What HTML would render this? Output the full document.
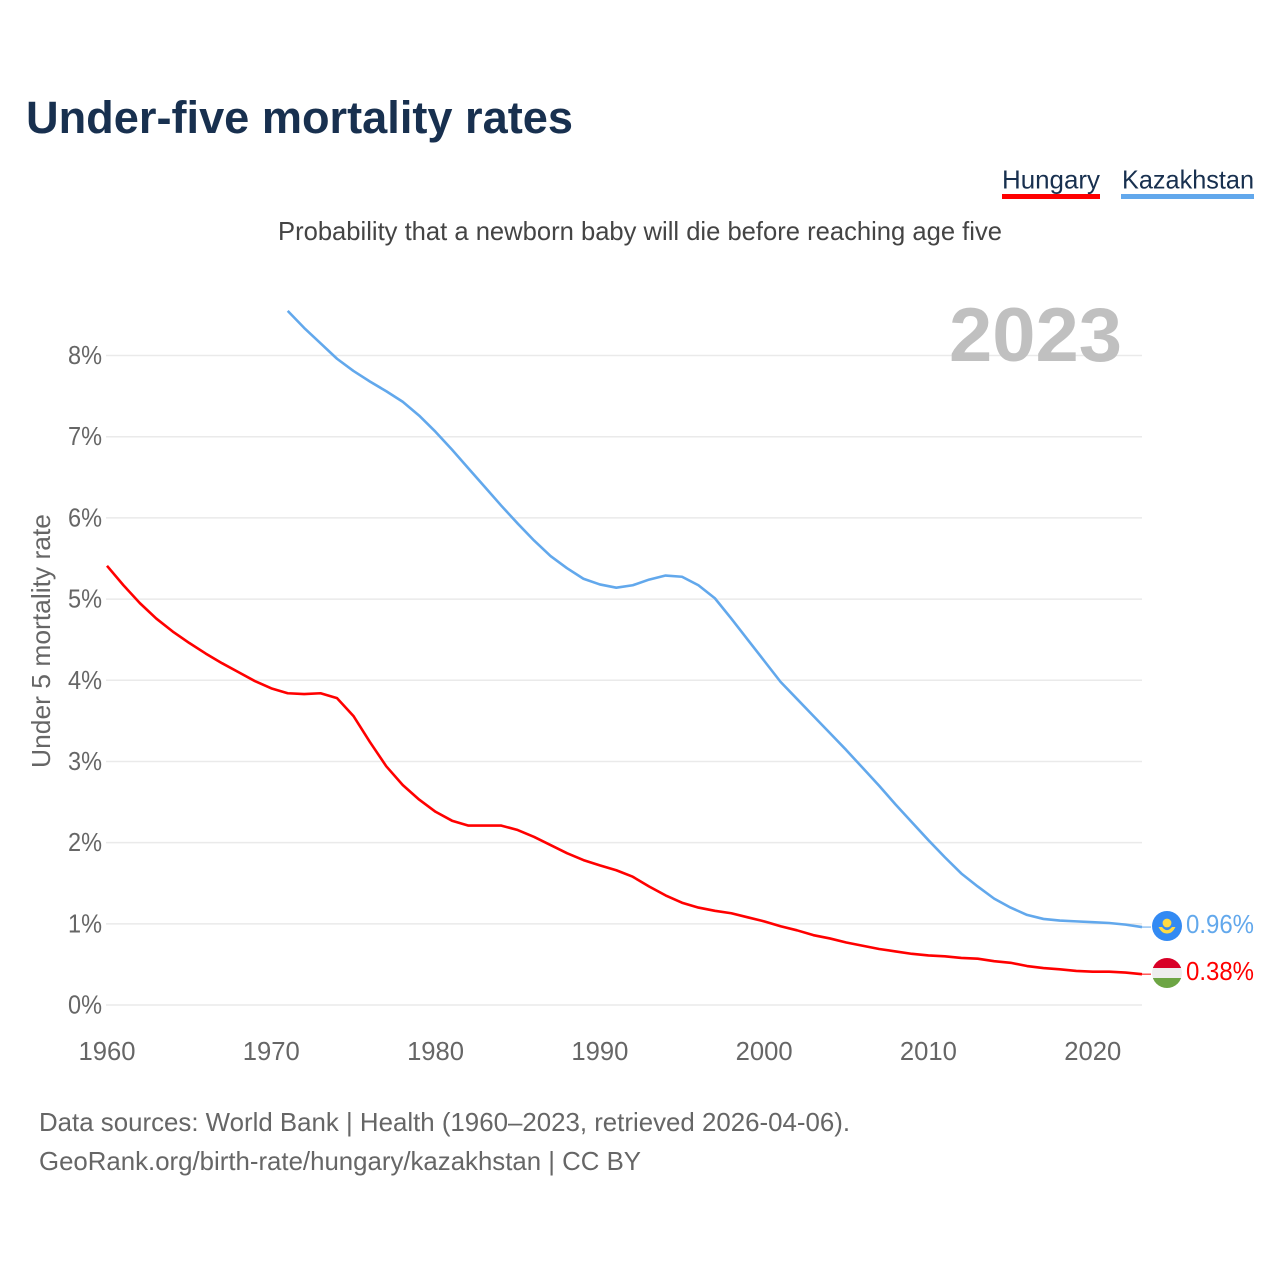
<!DOCTYPE html>
<html lang="en">
<head>
<meta charset="utf-8">
<title>Under-five mortality rates</title>
<style>
html,body{margin:0;padding:0;background:#fff;}
svg{display:block;font-family:"Liberation Sans",sans-serif;}
</style>
</head>
<body>
<svg id="chart" xmlns="http://www.w3.org/2000/svg" width="1280" height="1280" viewBox="0 0 1280 1280">
  <rect x="0" y="0" width="1280" height="1280" fill="#ffffff"/>
  <text x="26" y="133" font-size="45" font-weight="700" fill="#18304f" textLength="547" lengthAdjust="spacingAndGlyphs">Under-five mortality rates</text>
  <g>
    <text x="1002" y="188.5" font-size="26" fill="#18304f" textLength="98" lengthAdjust="spacingAndGlyphs">Hungary</text>
    <rect x="1002" y="194" width="98" height="5" fill="#ff0000"/>
  </g>
  <g>
    <text x="1122" y="188.5" font-size="26" fill="#18304f" textLength="132" lengthAdjust="spacingAndGlyphs">Kazakhstan</text>
    <rect x="1121" y="194" width="133" height="5" fill="#62a8ec"/>
  </g>
  <text x="278" y="240" font-size="26" fill="#444444" textLength="724" lengthAdjust="spacingAndGlyphs">Probability that a newborn baby will die before reaching age five</text>
  <g id="grid"></g>
  <text x="949" y="361" font-size="76" font-weight="700" fill="#c0c0c0" textLength="173" lengthAdjust="spacingAndGlyphs">2023</text>
  <g id="y-axis"></g>
  <g id="x-axis"></g>
  <text transform="translate(50 768) rotate(-90)" x="0" y="0" font-size="26" fill="#666666" textLength="254" lengthAdjust="spacingAndGlyphs">Under 5 mortality rate</text>
  <g id="series"></g>
  <g>
    <circle cx="1167" cy="926" r="15" fill="#338af3"/>
    <circle cx="1167" cy="923" r="4.4" fill="#ffda44"/>
    <path d="M1158.5 927 Q1162 934 1167 933.5 Q1172 934 1175.5 927 L1172 927 Q1169 930.5 1167 930 Q1165 930.5 1162 927 Z" fill="#ffda44"/>
  </g>
  <g>
    <clipPath id="hu-clip"><circle cx="1167" cy="973" r="15"/></clipPath>
    <g clip-path="url(#hu-clip)">
      <rect x="1152" y="958" width="30" height="10" fill="#d80027"/>
      <rect x="1152" y="968" width="30" height="10" fill="#eeeeee"/>
      <rect x="1152" y="978" width="30" height="10" fill="#6da544"/>
    </g>
  </g>
  <g id="end-labels"></g>
  <text x="39" y="1131" font-size="26" fill="#666666" textLength="811" lengthAdjust="spacingAndGlyphs">Data sources: World Bank | Health (1960–2023, retrieved 2026-04-06).</text>
  <text x="39" y="1170" font-size="26" fill="#666666" textLength="602" lengthAdjust="spacingAndGlyphs">GeoRank.org/birth-rate/hungary/kazakhstan | CC BY</text>
</svg>
<script>
const hungaryStartYear = 1960;
const kazakhstanStartYear = 1971;
const hungaryValues = [5.41,5.17,4.95,4.76,4.60,4.46,4.33,4.21,4.10,3.99,3.90,3.84,3.83,3.84,3.78,3.56,3.24,2.94,2.71,2.53,2.38,2.27,2.21,2.21,2.21,2.155,2.07,1.97,1.87,1.785,1.72,1.66,1.58,1.46,1.35,1.26,1.20,1.16,1.13,1.08,1.03,0.97,0.92,0.86,0.82,0.77,0.73,0.69,0.66,0.63,0.61,0.60,0.58,0.57,0.54,0.52,0.48,0.455,0.44,0.42,0.41,0.41,0.40,0.38];
const kazakhstanValues = [8.55,8.34,8.15,7.96,7.81,7.68,7.56,7.43,7.26,7.06,6.84,6.61,6.38,6.15,5.93,5.72,5.53,5.38,5.25,5.18,5.14,5.17,5.24,5.29,5.275,5.17,5.01,4.76,4.50,4.24,3.98,3.77,3.56,3.35,3.14,2.92,2.70,2.47,2.25,2.03,1.82,1.62,1.46,1.31,1.20,1.11,1.06,1.04,1.03,1.02,1.01,0.99,0.96];
const yTicks = [0,1,2,3,4,5,6,7,8];
const xTicks = [1960,1970,1980,1990,2000,2010,2020];
const hungaryEndLabel = "0.38%";
const kazakhstanEndLabel = "0.96%";

const NS = "http://www.w3.org/2000/svg";
function xScale(year){ return 107 + (year - 1960) * (1142 - 107) / 63; }
function yScale(value){ return 1005 - value * (1005 - 355.5) / 8; }
function make(tag, attrs, parent, content){
  const el = document.createElementNS(NS, tag);
  for (const k in attrs) el.setAttribute(k, attrs[k]);
  if (content !== undefined) el.textContent = content;
  parent.appendChild(el);
  return el;
}
const gridGroup = document.getElementById("grid");
const yGroup = document.getElementById("y-axis");
const xGroup = document.getElementById("x-axis");
const seriesGroup = document.getElementById("series");
const labelsGroup = document.getElementById("end-labels");

yTicks.forEach(function(t){
  const line = make("line", {x1:106, x2:1142, y1:yScale(t), y2:yScale(t), stroke:"#eaeaea", "stroke-width":1.5}, gridGroup);
  
  
  const label = make("text", {x:68, y:yScale(t)+8.5, "font-size":26, fill:"#666666", textLength:34, lengthAdjust:"spacingAndGlyphs"}, yGroup, t + "%");
  
  
});
xTicks.forEach(function(t){
  const label = make("text", {x:xScale(t)-28.5, y:1060, "font-size":26, fill:"#666666", textLength:57, lengthAdjust:"spacingAndGlyphs"}, xGroup, String(t));
  
  
});
function linePoints(values, startYear){
  return values.map(function(v, i){ return xScale(startYear + i).toFixed(2) + "," + yScale(v).toFixed(2); }).join(" ");
}
const kazakhstanLine = make("polyline", {points:linePoints(kazakhstanValues, kazakhstanStartYear), fill:"none", stroke:"#62a8ec", "stroke-width":2.6, "stroke-linejoin":"round"}, seriesGroup);


const hungaryLine = make("polyline", {points:linePoints(hungaryValues, hungaryStartYear), fill:"none", stroke:"#ff0000", "stroke-width":2.6, "stroke-linejoin":"round"}, seriesGroup);


const kazakhstanLast = kazakhstanValues[kazakhstanValues.length - 1];
const hungaryLast = hungaryValues[hungaryValues.length - 1];
const kazakhstanConnector = make("line", {x1:1142, x2:1151, y1:yScale(kazakhstanLast), y2:yScale(kazakhstanLast), stroke:"#62a8ec", "stroke-width":1}, seriesGroup);


const hungaryConnector = make("line", {x1:1142, x2:1151, y1:yScale(hungaryLast), y2:yScale(hungaryLast), stroke:"#ff0000", "stroke-width":1}, seriesGroup);


const kazakhstanLabel = make("text", {x:1186, y:yScale(kazakhstanLast)+6, "font-size":26, fill:"#62a8ec", textLength:68, lengthAdjust:"spacingAndGlyphs"}, labelsGroup, kazakhstanEndLabel);


const hungaryLabel = make("text", {x:1186, y:yScale(hungaryLast)+6, "font-size":26, fill:"#ff0000", textLength:68, lengthAdjust:"spacingAndGlyphs"}, labelsGroup, hungaryEndLabel);


</script>
</body>
</html>
